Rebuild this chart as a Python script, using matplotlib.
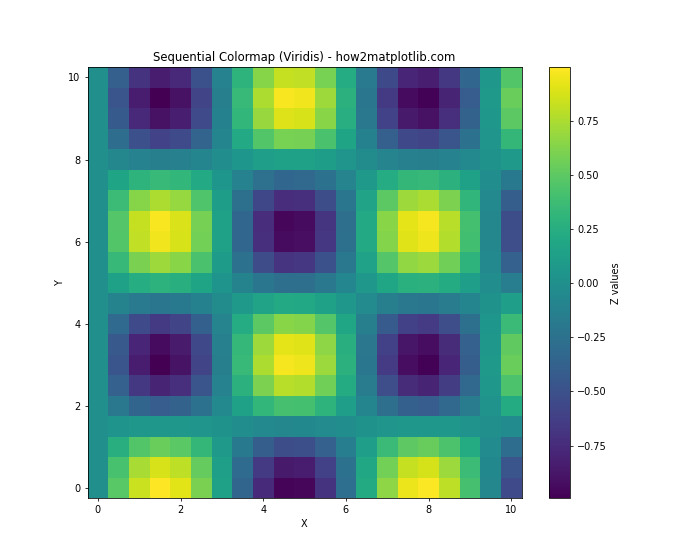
import numpy as np
import matplotlib.pyplot as plt

# grid positions (step 0.5)
x = [0, 0.5, 1.0, 1.5, 2.0, 2.5, 3.0, 3.5, 4.0, 4.5, 5.0, 5.5, 6.0, 6.5, 7.0, 7.5, 8.0, 8.5, 9.0, 9.5, 10.0]
y = [0, 0.5, 1.0, 1.5, 2.0, 2.5, 3.0, 3.5, 4.0, 4.5, 5.0, 5.5, 6.0, 6.5, 7.0, 7.5, 8.0, 8.5, 9.0, 9.5, 10.0]

# column and row factors of the pattern
col_factor = [0, 0.479, 0.841, 0.997, 0.909, 0.598, 0.141, -0.351, -0.757, -0.978, -0.959,
              -0.706, -0.279, 0.215, 0.657, 0.938, 0.989, 0.798, 0.412, -0.075, -0.544]
row_factor = [1, 0.878, 0.540, 0.071, -0.416, -0.801, -0.990, -0.936, -0.654, -0.211, 0.284,
              0.709, 0.960, 0.977, 0.754, 0.347, -0.146, -0.602, -0.911, -0.997, -0.839]

Z = np.outer(row_factor, col_factor)

fig, ax = plt.subplots(figsize=(10, 8), dpi=70)
mesh = ax.pcolormesh(x, y, Z, cmap='viridis', shading='nearest')
cbar = fig.colorbar(mesh, ax=ax)
cbar.set_label('Z values')
ax.set_title('Sequential Colormap (Viridis) - how2matplotlib.com')
ax.set_xlabel('X')
ax.set_ylabel('Y')
fig.savefig('out.png')
